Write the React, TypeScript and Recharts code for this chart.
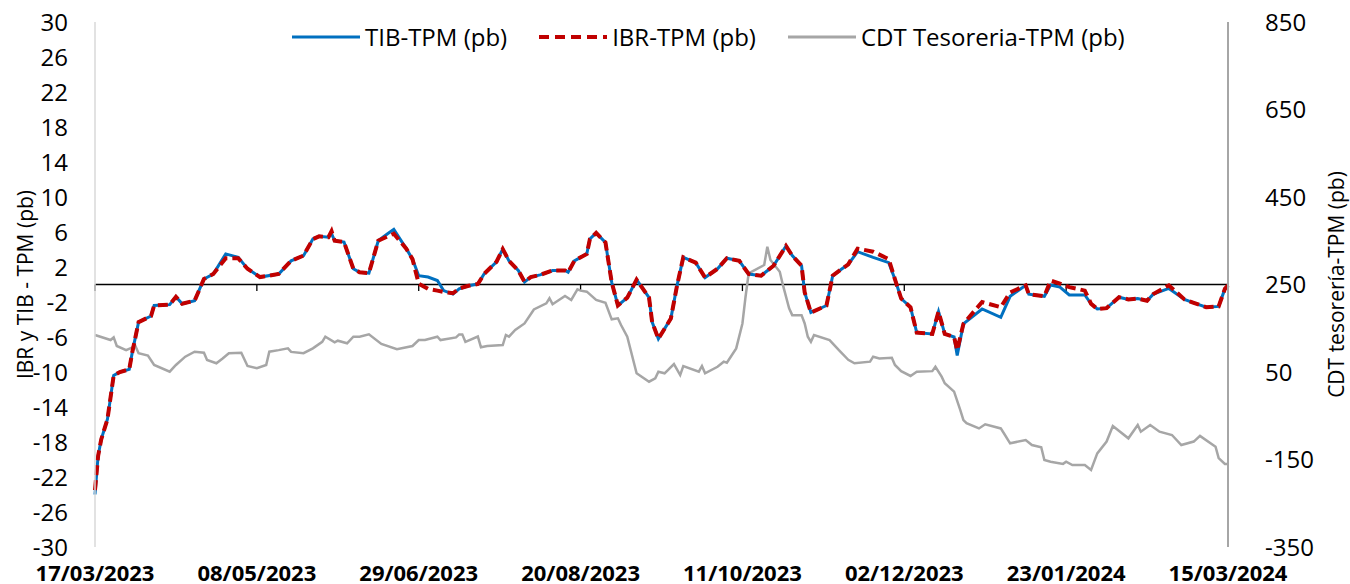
import React from 'react';
import { LineChart, Line, XAxis, YAxis, ReferenceLine, Legend, Label } from 'recharts';

// X axis: days since 17/03/2023
const tickDays = [0, 52, 104, 156, 208, 260, 312, 364];
const tickLabels = ['17/03/2023', '08/05/2023', '29/06/2023', '20/08/2023', '11/10/2023', '02/12/2023', '23/01/2024', '15/03/2024'];
const leftTicks = [-30, -26, -22, -18, -14, -10, -6, -2, 2, 6, 10, 14, 18, 22, 26, 30];
const rightTicks = [-350, -150, 50, 250, 450, 650, 850];

const spreadDays = [
  0, 1, 2, 4, 6, 8, 11, 12, 14, 18, 19, 24, 26, 28, 32, 35, 38, 42, 46, 49,
  53, 59, 63, 67, 70, 72, 75, 76, 77, 80, 83, 85, 88, 91, 94, 96, 100, 102, 104, 107,
  110, 112, 115, 117, 120, 123, 125, 129, 131, 133, 136, 138, 140, 143, 147, 151, 152, 154, 158, 159,
  161, 164, 166, 168, 171, 174, 178, 179, 181, 185, 187, 189, 193, 196, 200, 203, 207, 210, 214, 218,
  222, 224, 227, 228, 230, 235, 237, 240, 242, 245, 250, 255, 257, 259, 262, 264, 269, 271, 273, 276,
  277, 279, 285, 291, 294, 299, 300, 305, 307, 310, 313, 318, 320, 322, 325, 329, 332, 335, 338, 340,
  345, 350, 353, 357, 361, 363, 364,
];
const tibValues = [
  -24.0, -19.6, -17.7, -15.4, -10.4, -10.0, -9.7, -7.7, -4.3, -3.6, -2.4, -2.3, -1.4, -2.2, -1.85, 0.63, 1.2, 3.5, 3.1, 1.8,
  0.85, 1.2, 2.7, 3.3, 5.2, 5.5, 5.4, 5.8, 5.0, 4.85, 1.8, 1.4, 1.3, 5.0, 5.8, 6.3, 4.1, 2.9, 1.0, 0.85,
  0.45, -0.7, -1.1, -0.5, -0.15, 0.05, 1.2, 2.6, 4.05, 2.7, 1.6, 0.3, 0.85, 1.1, 1.6, 1.6, 1.4, 2.7, 3.5, 5.2,
  5.9, 4.8, 0.25, -2.4, -1.5, 0.55, -1.5, -4.3, -6.2, -3.9, -0.1, 3.1, 2.5, 0.8, 1.8, 3.0, 2.7, 1.2, 1.0, 2.15,
  4.4, 3.3, 2.15, -0.9, -3.2, -2.4, 1.0, 1.8, 2.3, 3.75, 3.1, 2.5, 0.6, -1.6, -2.6, -5.5, -5.65, -3.1, -5.65, -6.0,
  -8.1, -4.5, -2.8, -3.75, -1.35, -0.1, -1.1, -1.35, -0.05, -0.3, -1.2, -1.2, -2.2, -2.8, -2.7, -1.45, -1.7, -1.6, -1.85, -1.1,
  -0.45, -1.7, -2.1, -2.6, -2.5, -0.5, -0.1,
];
const ibrValues = [
  -23.5, -19.6, -17.7, -15.4, -10.4, -10.0, -9.7, -7.7, -4.3, -3.6, -2.4, -2.3, -1.4, -2.2, -1.85, 0.63, 1.2, 3.0, 3.0, 1.8,
  0.85, 1.2, 2.7, 3.3, 5.2, 5.5, 5.4, 6.1, 5.0, 4.85, 1.8, 1.4, 1.3, 5.0, 5.5, 5.8, 4.1, 2.9, 0.1, -0.5,
  -0.7, -0.85, -1.0, -0.45, -0.15, 0.05, 1.2, 2.6, 4.05, 2.7, 1.6, 0.3, 0.85, 1.1, 1.6, 1.6, 1.4, 2.7, 3.5, 5.2,
  5.9, 4.8, 0.25, -2.4, -1.5, 0.55, -1.5, -4.3, -6.2, -3.9, -0.1, 3.1, 2.5, 0.8, 1.8, 3.0, 2.7, 1.2, 1.0, 2.15,
  4.4, 3.3, 2.15, -0.9, -3.2, -2.4, 1.0, 1.8, 2.3, 4.1, 3.75, 2.9, 0.6, -1.6, -2.6, -5.5, -5.65, -3.1, -5.65, -6.0,
  -7.5, -4.5, -2.0, -2.6, -0.9, -0.1, -1.1, -1.35, 0.45, 0.1, -0.3, -0.7, -2.2, -2.8, -2.7, -1.45, -1.7, -1.6, -1.85, -1.1,
  -0.1, -1.7, -2.1, -2.6, -2.5, -0.5, -0.1,
];

const cdtDays = [
  0, 5, 6, 7, 10, 13, 14, 17, 19, 24, 26, 29, 32, 35, 36, 39, 41, 43, 47, 49,
  52, 55, 56, 59, 62, 63, 67, 70, 73, 74, 77, 78, 81, 83, 85, 88, 92, 97, 102, 104,
  106, 110, 111, 116, 117, 118, 119, 123, 124, 126, 131, 132, 133, 135, 138, 141, 145, 146, 147, 151,
  153, 155, 156, 158, 161, 164, 166, 168, 169, 171, 174, 178, 180, 181, 183, 186, 188, 189, 194, 195,
  196, 200, 202, 203, 206, 208, 209, 210, 215, 216, 217, 220, 221, 223, 224, 227, 228, 229, 230, 231,
  236, 239, 242, 244, 249, 250, 252, 256, 257, 259, 262, 264, 269, 270, 272, 273, 276, 278, 279, 280,
  284, 286, 291, 292, 294, 299, 301, 304, 305, 307, 311, 312, 314, 318, 320, 322, 325, 327, 332, 335,
  336, 339, 342, 346, 349, 353, 355, 360, 361, 363, 364,
];
const cdtValues = [
  134.6, 123, 129, 109.4, 100, 109, 93, 87.7, 66, 50.7, 66, 85, 96.4, 94, 77.4, 70, 81, 93, 94, 63.7,
  58.5, 66, 96.5, 100, 104, 96, 93, 104, 119, 130.7, 118, 121.6, 115.6, 130.7, 130.7, 136, 114, 102, 109.4, 123,
  123, 130.7, 123, 129, 136, 136, 119, 131, 106.5, 109.4, 111.7, 134.6, 130.7, 146, 161, 193, 207, 218.5, 205, 223.7,
  214.6, 239, 236, 233.6, 214.6, 208.4, 170.4, 172.7, 157.4, 130.7, 47, 27.8, 35.6, 50.7, 47, 68, 43, 63.7, 50.7, 63.7,
  47, 62, 73.6, 71.3, 104, 161, 222, 275.6, 294.6, 336.4, 306, 279, 249, 195.6, 180, 180, 161, 130.7, 119, 134.6,
  123, 100, 78, 70, 73.6, 85, 81, 82.7, 66, 52, 41, 50.7, 52, 62, 39.4, 24.3, 5, -37, -60, -67,
  -79, -69.6, -79, -90, -113, -105.4, -117, -122, -151, -155, -160, -155, -162.6, -162.6, -174, -136, -109, -73.4, -101.6, -71,
  -86.4, -71, -86.4, -94, -117, -109, -96, -120.7, -147, -160, -160,
];

const seriesNames = ['TIB-TPM (pb)', 'IBR-TPM (pb)', 'CDT Tesoreria-TPM (pb)'];
const seriesColors = ['#0070C0', '#C00000', '#A6A6A6'];

const spreadData = spreadDays.map((day, i) => ({ day, tib: tibValues[i], ibr: ibrValues[i] }));
const cdtData = cdtDays.map((day, i) => ({ day, cdt: cdtValues[i] }));

const FONT = '"Open Sans", sans-serif';

const LegendContent = () => (
  <div style={{ display: 'flex', alignItems: 'center', fontFamily: FONT, fontSize: 24, color: '#000', lineHeight: '32px' }}>
    {seriesNames.map((name, i) => (
      <div key={name} style={{ display: 'flex', alignItems: 'center', marginRight: i < 2 ? 32 : 0 }}>
        <svg width={68} height={10} style={{ display: 'block' }}>
          <line
            x1={0}
            y1={5}
            x2={68}
            y2={5}
            stroke={seriesColors[i]}
            strokeWidth={i === 1 ? 4 : 3}
            strokeDasharray={i === 1 ? '10 6' : undefined}
          />
        </svg>
        <span style={{ marginLeft: 5, whiteSpace: 'nowrap' }}>{name}</span>
      </div>
    ))}
  </div>
);

export default function App() {
  return (
    <div style={{ position: 'absolute', left: 0, top: 0, width: 1350, height: 584, background: '#fff' }}>
      <LineChart width={1350} height={584} margin={{ top: 22, right: 0, bottom: 0, left: 0 }}>
        <XAxis
          xAxisId={0}
          dataKey="day"
          type="number"
          domain={[0, 364]}
          ticks={tickDays}
          interval={0}
          tickFormatter={(v: number) => tickLabels[tickDays.indexOf(v)] ?? ''}
          axisLine={false}
          tickLine={false}
          tickSize={0}
          tickMargin={18}
          height={37}
          tick={{ fill: '#000', fontSize: 22, fontWeight: 700, fontFamily: FONT }}
        />
        <YAxis
          yAxisId="left"
          orientation="left"
          domain={[-30, 30]}
          ticks={leftTicks}
          interval={0}
          width={95}
          axisLine={{ stroke: '#D9D9D9', strokeWidth: 1.5 }}
          tickLine={false}
          tickSize={0}
          tickMargin={27}
          tick={{ fill: '#000', fontSize: 24, fontFamily: FONT }}
        >
          <Label
            value="IBR y TIB - TPM (pb)"
            angle={-90}
            position="insideLeft"
            offset={26}
            style={{ textAnchor: 'middle', fontSize: 21, fontFamily: FONT, fill: '#000' }}
          />
        </YAxis>
        <YAxis
          yAxisId="right"
          orientation="right"
          domain={[-350, 850]}
          ticks={rightTicks}
          interval={0}
          width={122}
          axisLine={{ stroke: '#A6A6A6', strokeWidth: 2 }}
          tickLine={false}
          tickSize={0}
          tickMargin={37}
          tick={{ fill: '#000', fontSize: 24, fontFamily: FONT }}
        >
          <Label
            value="CDT tesorería-TPM (pb)"
            angle={-90}
            position="insideRight"
            offset={13}
            style={{ textAnchor: 'middle', fontSize: 21, fontFamily: FONT, fill: '#000' }}
          />
        </YAxis>
        <ReferenceLine yAxisId="left" y={0} stroke="#000" strokeWidth={1.3} />
        {tickDays.map((d) => (
          <ReferenceLine
            key={d}
            yAxisId="left"
            segment={[{ x: d, y: 0 }, { x: d, y: -0.75 }]}
            stroke="#000"
            strokeWidth={1.3}
          />
        ))}
        <Legend
          verticalAlign="middle"
          align="center"
          layout="horizontal"
          wrapperStyle={{ top: 21, left: 292, width: 900, height: 32 }}
          content={LegendContent}
        />
        <Line
          yAxisId="right"
          data={cdtData}
          dataKey="cdt"
          type="linear"
          stroke={seriesColors[2]}
          strokeWidth={2.5}
          dot={false}
          activeDot={false}
          isAnimationActive={false}
        />
        <Line
          yAxisId="left"
          data={spreadData}
          dataKey="tib"
          type="linear"
          stroke={seriesColors[0]}
          strokeWidth={3}
          dot={false}
          activeDot={false}
          isAnimationActive={false}
        />
        <Line
          yAxisId="left"
          data={spreadData}
          dataKey="ibr"
          type="linear"
          stroke={seriesColors[1]}
          strokeWidth={4}
          strokeDasharray="10 5"
          dot={false}
          activeDot={false}
          isAnimationActive={false}
        />
      </LineChart>
    </div>
  );
}
